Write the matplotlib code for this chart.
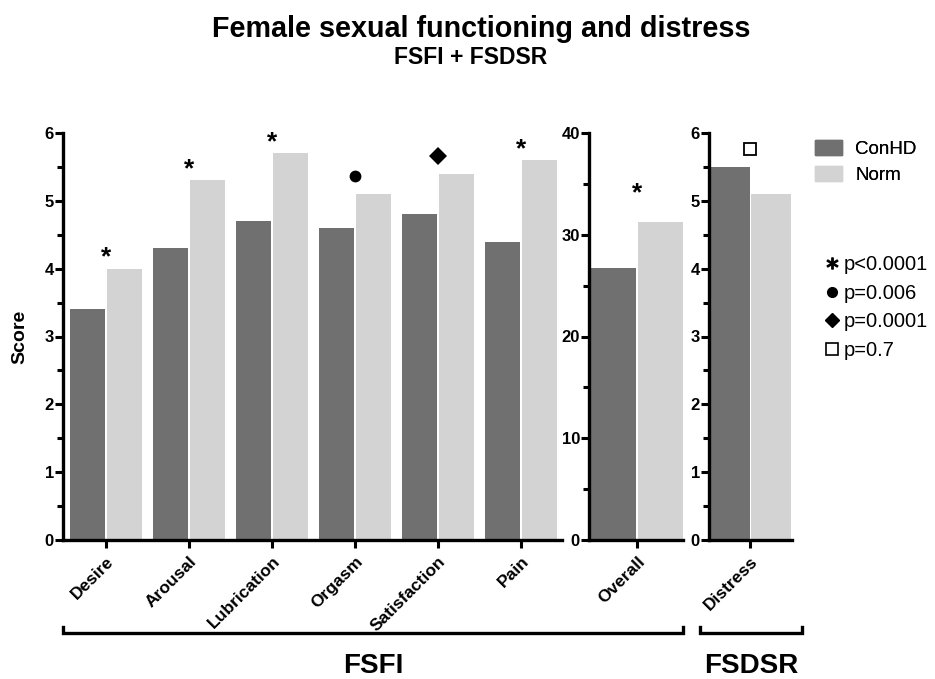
import matplotlib
matplotlib.use("Agg")
import matplotlib.pyplot as plt
import matplotlib.transforms as mtransforms
from matplotlib.lines import Line2D
from matplotlib.patches import Patch
from matplotlib.ticker import MultipleLocator

plt.rcParams['font.family'] = ['Liberation Sans', 'DejaVu Sans']

# ---------------- data ----------------
fsfi_categories = ['Desire', 'Arousal', 'Lubrication', 'Orgasm', 'Satisfaction', 'Pain']
fsfi_conhd = [3.4, 4.3, 4.7, 4.6, 4.8, 4.4]
fsfi_norm = [4.0, 5.3, 5.7, 5.1, 5.4, 5.6]
fsfi_sig = ['*', '*', '*', 'o', 'D', '*']

overall_categories = ['Overall']
overall_conhd = [26.7]
overall_norm = [31.3]
overall_sig = ['*']

distress_categories = ['Distress']
distress_conhd = [5.5]
distress_norm = [5.1]
distress_sig = ['s']

series_names = ['ConHD', 'Norm']
sig_labels = ['p<0.0001', 'p=0.006', 'p=0.0001', 'p=0.7']

# ---------------- style ----------------
DARK = '#707070'
LIGHT = '#d3d3d3'
W, H = 935, 679
fig = plt.figure(figsize=(W / 100, H / 100), dpi=100)


def px_axes(left, right, top, bottom):
    return fig.add_axes([left / W, 1 - bottom / H, (right - left) / W, (bottom - top) / H])


def style_axis(ax, ymax, major, minor):
    ax.set_ylim(0, ymax)
    ax.yaxis.set_major_locator(MultipleLocator(major))
    ax.yaxis.set_minor_locator(MultipleLocator(minor))
    for s in ['top', 'right']:
        ax.spines[s].set_visible(False)
    for s in ['left', 'bottom']:
        ax.spines[s].set_linewidth(2.4)
    ax.tick_params(axis='y', which='major', length=5.5, width=2.2, labelsize=12, pad=1)
    ax.tick_params(axis='y', which='minor', length=4.5, width=2.2)
    ax.tick_params(axis='x', which='major', length=6, width=2.2, pad=4)
    for lab in ax.get_yticklabels():
        lab.set_fontweight('bold')


def draw_panel(ax, cats, a, b, sig, off, width, xlim, sig_offset_pts):
    x = list(range(len(cats)))
    ax.bar([i - off for i in x], a, width=width, color=DARK, linewidth=0)
    ax.bar([i + off for i in x], b, width=width, color=LIGHT, linewidth=0)
    ax.set_xlim(*xlim)
    ax.set_xticks(x)
    ax.set_xticklabels(cats, rotation=45, ha='right', rotation_mode='anchor',
                       fontweight='bold', fontsize=12.5)
    shift = mtransforms.ScaledTranslation(0, sig_offset_pts / 72, fig.dpi_scale_trans)
    for i, s in enumerate(sig):
        top = max(a[i], b[i])
        if s == '*':
            ax.annotate('*', (i, top), xytext=(0, sig_offset_pts - 10), textcoords='offset points',
                        ha='center', va='baseline', fontsize=19, fontweight='bold')
        else:
            face = 'white' if s == 's' else 'black'
            size = {'o': 8.5, 'D': 9, 's': 9}[s]
            ax.plot([i], [top], marker=s, markersize=size, markerfacecolor=face,
                    markeredgecolor='black', markeredgewidth=1.3 if s == 's' else 0,
                    linestyle='none', clip_on=False, transform=ax.transData + shift)


ax1 = px_axes(63, 562, 133, 540)
style_axis(ax1, 6, 1, 0.5)
draw_panel(ax1, fsfi_categories, fsfi_conhd, fsfi_norm, fsfi_sig, 0.223, 0.42,
           (-0.518, 5.494), 13)
ax1.set_ylabel('Score', fontsize=14, fontweight='bold', labelpad=12)

ax2 = px_axes(589, 683, 133, 540)
style_axis(ax2, 40, 10, 5)
draw_panel(ax2, overall_categories, overall_conhd, overall_norm, overall_sig, 0.235, 0.45,
           (-0.48, 0.46), 25)

ax3 = px_axes(709, 792, 133, 540)
style_axis(ax3, 6, 1, 0.5)
draw_panel(ax3, distress_categories, distress_conhd, distress_norm, distress_sig, 0.205, 0.40,
           (-0.41, 0.42), 13)

# titles
fig.text(481 / W, 1 - 29 / H, 'Female sexual functioning and distress', ha='center', va='center',
         fontsize=20.7, fontweight='bold')
fig.text(471 / W, 1 - 58 / H, 'FSFI + FSDSR', ha='center', va='center',
         fontsize=16.5, fontweight='bold')


# group brackets
def bracket(x0, x1, y, tick, label):
    fig.add_artist(Line2D([x0 / W, x0 / W, x1 / W, x1 / W],
                          [1 - (y - tick) / H, 1 - y / H, 1 - y / H, 1 - (y - tick) / H],
                          color='black', linewidth=2.4, solid_joinstyle='miter'))
    fig.text((x0 + x1) / 2 / W, 1 - 666 / H, label, ha='center', va='center',
             fontsize=20, fontweight='bold')


bracket(63, 683, 633, 6, 'FSFI')
bracket(700, 802, 633, 6, 'FSDSR')

# legends
h1 = [Patch(color=DARK), Patch(color=LIGHT)]
leg1 = fig.legend(h1, series_names, loc='upper left', bbox_to_anchor=(815 / W, 1 - 140 / H),
                  frameon=False, fontsize=13.5, handlelength=1.45, handleheight=0.85,
                  handletextpad=0.7, labelspacing=0.45, borderpad=0, borderaxespad=0)

h2 = [Line2D([], [], marker=r'$*$', markersize=8, color='black', linestyle='none'),
      Line2D([], [], marker='o', markersize=7, color='black', linestyle='none'),
      Line2D([], [], marker='D', markersize=7, color='black', linestyle='none'),
      Line2D([], [], marker='s', markersize=8, markerfacecolor='white',
             markeredgecolor='black', markeredgewidth=1.2, linestyle='none')]
leg2 = fig.legend(h2, sig_labels, loc='upper left', bbox_to_anchor=(824 / W, 1 - 255 / H),
                  frameon=False, fontsize=14.5, handlelength=0.8, handletextpad=0.2,
                  labelspacing=0.48, borderpad=0, borderaxespad=0)
fig.add_artist(leg1)

fig.savefig('out.png', dpi=100)
